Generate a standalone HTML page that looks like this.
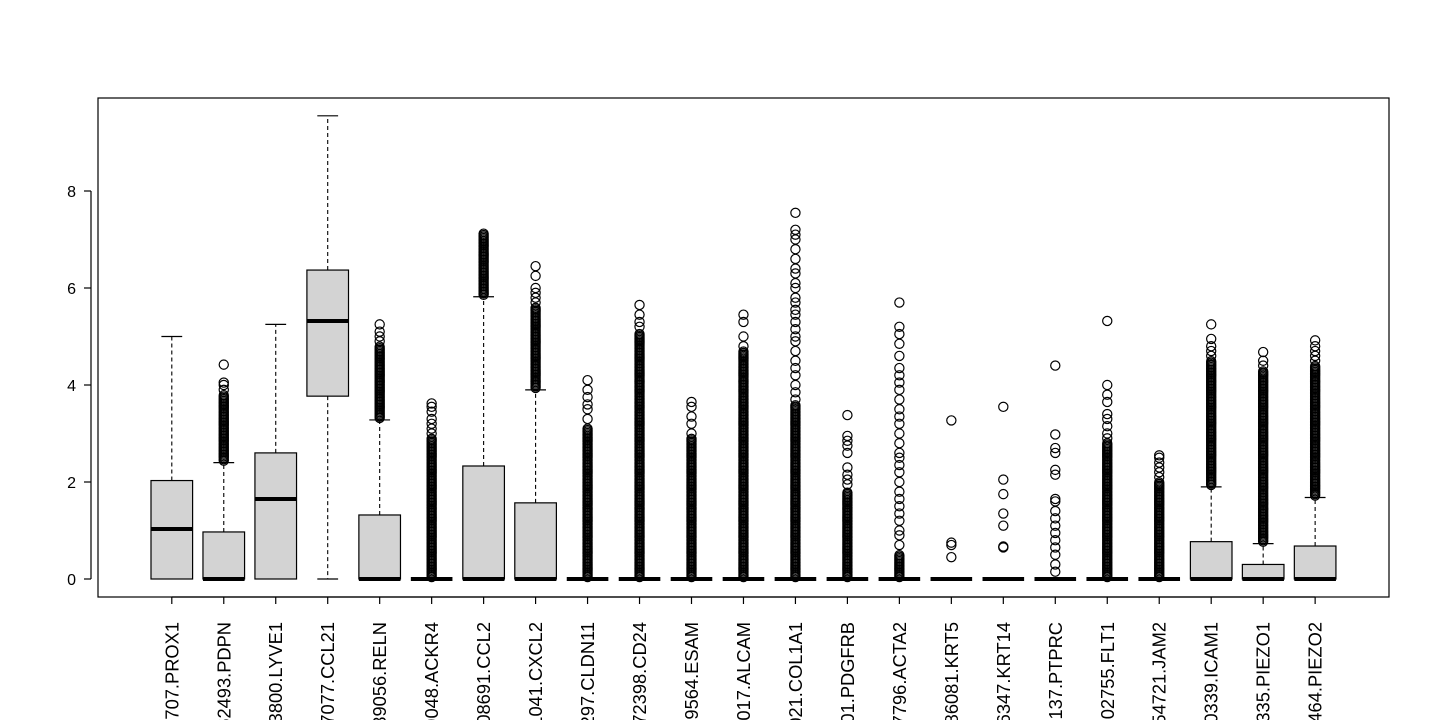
<!DOCTYPE html>
<html><head><meta charset="utf-8"><style>
html,body{margin:0;padding:0;background:#fff;overflow:hidden;width:1440px;height:720px}
svg{display:block}
text{font-family:"Liberation Sans",Arial,sans-serif;font-size:16px;fill:#000}
text.xl{font-size:18.3px}
</style></head><body>
<svg id="s" width="1440" height="720" viewBox="0 0 1440 720" xmlns="http://www.w3.org/2000/svg">
<rect x="98" y="98" width="1291" height="499" fill="none" stroke="#000" stroke-width="1.2"/>
<g id="g"></g>
</svg>
<script>
var NS="http://www.w3.org/2000/svg",g=document.getElementById('g');
function el(t,a,txt){var e=document.createElementNS(NS,t);for(var k in a)e.setAttribute(k,a[k]);if(txt!=null)e.textContent=txt;g.appendChild(e);return e;}
function Y(v){return 579-v*48.5;}
function X(i){return 98+(i+0.42)*51.97;}
el('line',{x1:91,x2:91,y1:Y(0),y2:Y(8),stroke:'#000','stroke-width':1.2});
[0,2,4,6,8].forEach(function(v){el('line',{x1:84,x2:91,y1:Y(v),y2:Y(v),stroke:'#000','stroke-width':1.2});
el('text',{x:76,y:Y(v)+6,'text-anchor':'end'},String(v));});
var D=[
["ENSG0000011707.PROX1",0,1.03,2.03,0,5.0,null,[]],
["ENSG00000162493.PDPN",0,0,0.97,0,2.4,3.8,[3.9,4.0,4.05,4.42]],
["ENSG00000133800.LYVE1",0,1.65,2.6,0,5.25,null,[]],
["ENSG00000137077.CCL21",3.77,5.32,6.37,0,9.55,null,[]],
["ENSG00000189056.RELN",0,0,1.32,0,3.28,4.8,[4.9,5.0,5.1,5.25]],
["ENSG00000129048.ACKR4",0,0,0,0,0,2.9,[3.0,3.1,3.2,3.3,3.45,3.55,3.62]],
["ENSG00000108691.CCL2",0,0,2.33,0,5.82,7.15,[]],
["ENSG00000081041.CXCL2",0,0,1.57,0,3.9,5.6,[5.7,5.8,5.9,6.0,6.25,6.45]],
["ENSG0000013297.CLDN11",0,0,0,0,0,3.1,[3.3,3.5,3.6,3.75,3.9,4.1]],
["ENSG00000272398.CD24",0,0,0,0,0,5.05,[5.2,5.3,5.45,5.65]],
["ENSG00000149564.ESAM",0,0,0,0,0,2.9,[3.0,3.2,3.35,3.55,3.65]],
["ENSG0000017017.ALCAM",0,0,0,0,0,4.7,[4.8,5.0,5.3,5.45]],
["ENSG000001021.COL1A1",0,0,0,0,0,3.6,[3.7,3.85,4.0,4.2,4.35,4.5,4.7,4.9,5.0,5.15,5.3,5.45,5.55,5.7,5.8,6.0,6.1,6.3,6.4,6.6,6.8,7.0,7.1,7.2,7.55]],
["ENSG00000001.PDGFRB",0,0,0,0,0,1.8,[1.95,2.05,2.15,2.3,2.6,2.75,2.85,2.95,3.38]],
["ENSG00000107796.ACTA2",0,0,0,0,0,0.5,[0.7,0.9,1.0,1.2,1.35,1.5,1.65,1.8,2.0,2.2,2.35,2.5,2.6,2.8,3.0,3.2,3.35,3.5,3.7,3.9,4.05,4.2,4.35,4.6,4.85,5.05,5.2,5.7]],
["ENSG00000186081.KRT5",0,0,0,0,0,null,[0.45,0.7,0.75,3.27]],
["ENSG00000186347.KRT14",0,0,0,0,0,null,[0.65,0.67,1.1,1.35,1.75,2.05,3.55]],
["ENSG0000008137.PTPRC",0,0,0,0,0,null,[0.15,0.3,0.5,0.65,0.8,0.95,1.1,1.25,1.4,1.6,1.65,2.15,2.25,2.6,2.7,2.98,4.4]],
["ENSG00000102755.FLT1",0,0,0,0,0,2.8,[2.9,3.0,3.15,3.3,3.4,3.65,3.8,4.0,5.32]],
["ENSG00000154721.JAM2",0,0,0,0,0,2.0,[2.1,2.2,2.3,2.4,2.5,2.55]],
["ENSG00000090339.ICAM1",0,0,0.77,0,1.9,4.5,[4.6,4.7,4.8,4.95,5.25]],
["ENSG0000010335.PIEZO1",0,0,0.3,0,0.73,4.3,[4.4,4.5,4.68]],
["ENSG0000015464.PIEZO2",0,0,0.68,0,1.68,4.4,[4.5,4.6,4.7,4.8,4.92]]
];
D.forEach(function(d,k){
 var i=k+1,cx=X(i),hw=20.8,sw=10.4;
 var q1=d[1],md=d[2],q3=d[3],lo=d[4],hi=d[5];
 if(hi>q3){el('line',{x1:cx,x2:cx,y1:Y(q3),y2:Y(hi),stroke:'#000','stroke-width':1.1,'stroke-dasharray':'4,3'});
  el('line',{x1:cx-sw,x2:cx+sw,y1:Y(hi),y2:Y(hi),stroke:'#000','stroke-width':1.2});}
 if(lo<q1){el('line',{x1:cx,x2:cx,y1:Y(q1),y2:Y(lo),stroke:'#000','stroke-width':1.1,'stroke-dasharray':'4,3'});
  el('line',{x1:cx-sw,x2:cx+sw,y1:Y(lo),y2:Y(lo),stroke:'#000','stroke-width':1.2});}
 if(q3>q1) el('rect',{x:cx-hw,y:Y(q3),width:2*hw,height:Y(q1)-Y(q3),fill:'#d3d3d3',stroke:'#000','stroke-width':1.2});
 var pts=[];
 if(d[6]!=null){var start=(q3>0?hi:0)+0.04;for(var v=start;v<=d[6];v+=0.03)pts.push(v);}
 pts=pts.concat(d[7]);
 pts.forEach(function(v){el('circle',{cx:cx,cy:Y(v),r:4.6,fill:'none',stroke:'#000','stroke-width':1.2});});
 el('line',{x1:cx-hw,x2:cx+hw,y1:Y(md),y2:Y(md),stroke:'#000','stroke-width':4});
 el('line',{x1:cx,x2:cx,y1:597,y2:604,stroke:'#000','stroke-width':1.2});
 el('text',{x:0,y:0,'class':'xl','text-anchor':'end',transform:'translate('+(cx+6.5)+',622) rotate(-90)'},d[0]);
});
el('line',{x1:X(1),x2:X(23),y1:597,y2:597,stroke:'#000','stroke-width':1.2});
</script>
</body></html>
